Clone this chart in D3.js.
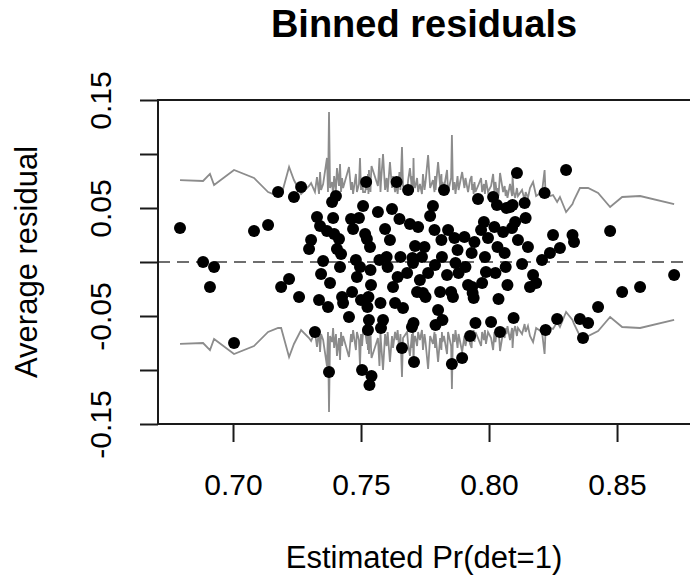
<!DOCTYPE html>
<html>
<head>
  <meta charset="utf-8">
  <script src="https://d3js.org/d3.v7.min.js"></script>
  <title>Binned residuals</title>
</head>
<style>
html, body {
  margin: 0;
  background: white;
  font-family: 'Liberation Sans', Arial, sans-serif;
}
svg {
  display: block;
}
</style>
<body>
<script>
// one entry per bin: mean estimated Pr, average residual, 2 standard errors
var binX = [
  .6793,.6883,.6910,.6926,.7004,.7082,.7137,.7176,.7188,.7219,
  .7238,.7258,.7266,.7297,.7305,.7320,.7328,.7336,.7340,.7344,
  .7352,.7367,.7371,.7375,.7379,.7387,.7391,.7395,.7402,.7406,
  .7414,.7418,.7422,.7426,.7430,.7453,.7461,.7465,.7469,.7480,
  .7484,.7492,.7496,.7500,.7504,.7508,
  .7516,.7520,.7523,.7525,.7527,.7529,.7531,.7533,.7535,.7537,.7539,.7541,
  .7566,.7572,.7576,.7578,.7586,.7594,.7600,.7604,.7613,.7621,.7625,.7633,.7639,.7643,.7650,.7654,.7660,.7664,
  .7680,.7684,.7691,.7699,.7701,.7703,.7705,.7707,.7711,.7719,.7723,.7730,.7738,.7742,.7748,.7752,.7762,.7770,.7781,.7787,.7789,.7791,
  .7801,.7809,.7814,.7816,.7818,.7824,.7836,.7840,.7852,.7855,.7859,.7865,.7869,.7877,.7881,.7895,.7904,.7908,.7918,.7926,
  .7932,.7934,.7936,.7940,.7943,.7947,.7957,.7969,.7973,.7980,.7984,.7988,.7996,.8008,.8016,.8021,.8025,.8031,.8033,.8037,
  .8043,.8055,.8061,.8065,.8068,.8072,.8082,.8090,.8092,.8096,.8102,.8109,.8113,.8129,.8139,.8143,.8152,.8160,.8172,.8184,
  .8207,.8217,.8221,.8238,.8250,.8266,.8277,.8301,.8326,.8332,.8355,.8367,.8387,.8426,.8473,.8520,.8590,.8723
];

var binResid = [
  .0315,.0000,-.0231,-.0046,-.0750,.0287,.0343,.0648,-.0231,-.0157,
  .0602,-.0324,.0694,.0120,.0204,-.0648,.0417,-.0352,.0333,-.0111,
  .0009,.0287,-.0417,-.1019,-.0194,.0556,.0407,.0259,.0611,.0120,
  .0213,-.0046,.0074,-.0324,-.0380,-.0509,.0398,-.0278,.0306,.0019,
  -.0139,.0407,-.0046,-.0352,-.1000,.0519,
  .0259,.0741,.0213,-.0417,-.0630,-.0324,-.0537,-.1139,.0139,-.0074,-.0213,-.1056,
  .0463,.0019,-.0380,-.0611,-.0537,.0306,.0046,-.0046,.0204,.0491,-.0231,-.0380,.0741,-.0139,.0398,.0046,-.0796,-.0426,
  -.0102,.0667,.0352,-.0602,.0037,-.0009,-.0565,-.0926,.0148,-.0278,.0324,-.0167,.0046,-.0287,.0139,-.0324,-.0102,.0426,.0519,.0296,-.0028,-.0583,
  -.0444,-.0278,.0204,.0046,-.0537,.0667,-.0120,.0296,-.0278,-.0944,-.0324,.0222,-.0009,.0111,-.0102,-.0889,.0231,-.0046,-.0213,-.0685,
  .0083,-.0231,-.0287,-.0333,.0185,-.0565,.0583,.0296,-.0194,.0370,.0046,-.0093,.0222,-.0556,.0602,.0324,-.0102,.0528,.0139,-.0343,
  -.0648,.0278,.0083,-.0046,.0500,-.0213,.0509,.0315,.0528,-.0519,.0370,.0824,.0204,-.0019,.0546,.0407,.0139,-.0231,-.0120,-.0194,
  .0019,.0639,-.0630,.0083,.0250,-.0528,.0130,.0852,.0250,.0185,-.0528,-.0704,-.0565,-.0417,.0287,-.0278,-.0231,-.0120
];

var binBound = [
  .0759,.0750,.0815,.0713,.0852,.0778,.0648,.0611,.0611,.0880,
  .0759,.0667,.0630,.0704,.0731,.0648,.0787,.0630,.0833,.0667,
  .0722,.0963,.0648,.1389,.0685,.0741,.0611,.0796,.0667,.0870,
  .0704,.0907,.0648,.0778,.0685,.0880,.0667,.0741,.0630,.0815,
  .0648,.0722,.0963,.0667,.0778,.0648,
  .0648,.0704,.0759,.0667,.0815,.0630,.0852,.0685,.0741,.0648,.0796,.0889,
  .0704,.0963,.0648,.0741,.1000,.0667,.0778,.0648,.0926,.0685,.0796,.0648,.0722,.0630,.0833,.0667,.1065,.0704,
  .0648,.0759,.0870,.0667,.0796,.0648,.0963,.0741,.0685,.0778,.0648,.0722,.0630,.0815,.0667,.0741,.0991,.0685,.0759,.0648,.0796,.0667,
  .0926,.0704,.0815,.0648,.0741,.0685,.0852,.0648,.0778,.1176,.0667,.0741,.0630,.0796,.0667,.0833,.0685,.0778,.0648,.0759,
  .0796,.0667,.0722,.0630,.0741,.0648,.0704,.0778,.0648,.0722,.0630,.0759,.0648,.0704,.0815,.0648,.0741,.0630,.0685,.0611,
  .0824,.0648,.0704,.0611,.0667,.0593,.0722,.0611,.0796,.0648,.0593,.0685,.0611,.0667,.0574,.0648,.0593,.0685,.0741,.0611,
  .0648,.0852,.0630,.0611,.0620,.0556,.0602,.0463,.0537,.0574,.0685,.0685,.0685,.0639,.0509,.0602,.0611,.0537
];

var xTicks = [0.70, 0.75, 0.80, 0.85];
var xTickLabels = ["0.70", "0.75", "0.80", "0.85"];
var yTicks = [-0.15, -0.10, -0.05, 0, 0.05, 0.10, 0.15];
var yTickLabels = ["-0.15", "", "-0.05", "", "0.05", "", "0.15"];

var titleText = "Binned residuals";
var xLabel = "Estimated Pr(det=1)";
var yLabel = "Average residual";

// plot region (the right edge runs off the picture like in the original)
var width = 690, height = 582;
var plot = {left: 158, top: 100, right: 690, bottom: 424};
var tickLen = 18;

var x = d3.scaleLinear()
  .domain([0.6707, 0.8785])
  .range([plot.left, plot.right]);

var y = d3.scaleLinear()
  .domain([-0.15, 0.15])
  .range([plot.bottom, plot.top]);

var svg = d3.select("body").append("svg")
  .attr("width", width)
  .attr("height", height);

svg.append("rect")
  .attr("width", width)
  .attr("height", height)
  .attr("fill", "white");

// gray +/- 2 se lines
var idx = d3.range(binX.length);

var upper = d3.line()
  .x(function(i) { return x(binX[i]); })
  .y(function(i) { return y(binBound[i]); });

var lower = d3.line()
  .x(function(i) { return x(binX[i]); })
  .y(function(i) { return y(-binBound[i]); });

svg.append("path")
  .attr("d", upper(idx))
  .attr("fill", "none")
  .attr("stroke", "#8c8c8c")
  .attr("stroke-width", 1.8);

svg.append("path")
  .attr("d", lower(idx))
  .attr("fill", "none")
  .attr("stroke", "#8c8c8c")
  .attr("stroke-width", 1.8);

// dashed zero line
svg.append("line")
  .attr("x1", plot.left)
  .attr("x2", plot.right)
  .attr("y1", y(0))
  .attr("y2", y(0))
  .attr("stroke", "#6e6e6e")
  .attr("stroke-width", 2)
  .attr("stroke-dasharray", "12,7");

// points
svg.append("g")
  .selectAll("circle")
  .data(idx)
  .enter().append("circle")
  .attr("cx", function(i) { return x(binX[i]); })
  .attr("cy", function(i) { return y(binResid[i]); })
  .attr("r", 6)
  .attr("fill", "black");

// box
svg.append("rect")
  .attr("x", plot.left)
  .attr("y", plot.top)
  .attr("width", plot.right + 2 - plot.left)
  .attr("height", plot.bottom - plot.top)
  .attr("fill", "none")
  .attr("stroke", "#1a1a1a")
  .attr("stroke-width", 2);

// axes
var yAxis = svg.append("g")
  .attr("transform", "translate(" + plot.left + ",0)")
  .call(d3.axisLeft(y)
    .tickValues(yTicks)
    .tickSize(tickLen)
    .tickSizeOuter(0)
    .tickFormat(function(d, i) { return yTickLabels[i]; }));

yAxis.select(".domain").remove();
yAxis.selectAll("line").attr("stroke", "#1a1a1a").attr("stroke-width", 2);
yAxis.selectAll("text")
  .attr("transform", "rotate(-90)")
  .attr("x", 0)
  .attr("y", -47)
  .attr("dy", 0)
  .style("text-anchor", "middle")
  .style("font-family", "'Liberation Sans', Arial, sans-serif")
  .style("font-size", "30px")
  .attr("fill", "black");

var xAxis = svg.append("g")
  .attr("transform", "translate(0," + plot.bottom + ")")
  .call(d3.axisBottom(x)
    .tickValues(xTicks)
    .tickSize(tickLen)
    .tickSizeOuter(0)
    .tickFormat(function(d, i) { return xTickLabels[i]; }));

xAxis.select(".domain").remove();
xAxis.selectAll("line").attr("stroke", "#1a1a1a").attr("stroke-width", 2);
xAxis.selectAll("text")
  .attr("y", 71)
  .attr("dy", 0)
  .style("font-family", "'Liberation Sans', Arial, sans-serif")
  .style("font-size", "30px")
  .attr("fill", "black");

// titles
svg.append("text")
  .attr("x", (plot.left + plot.right) / 2)
  .attr("y", 37)
  .attr("text-anchor", "middle")
  .style("font-size", "38px")
  .style("font-weight", "bold")
  .text(titleText);

svg.append("text")
  .attr("x", (plot.left + plot.right) / 2)
  .attr("y", 568)
  .attr("text-anchor", "middle")
  .style("font-size", "31px")
  .text(xLabel);

svg.append("text")
  .attr("transform", "translate(37," + y(0) + ") rotate(-90)")
  .attr("text-anchor", "middle")
  .style("font-size", "31px")
  .text(yLabel);
</script>
</body>
</html>
